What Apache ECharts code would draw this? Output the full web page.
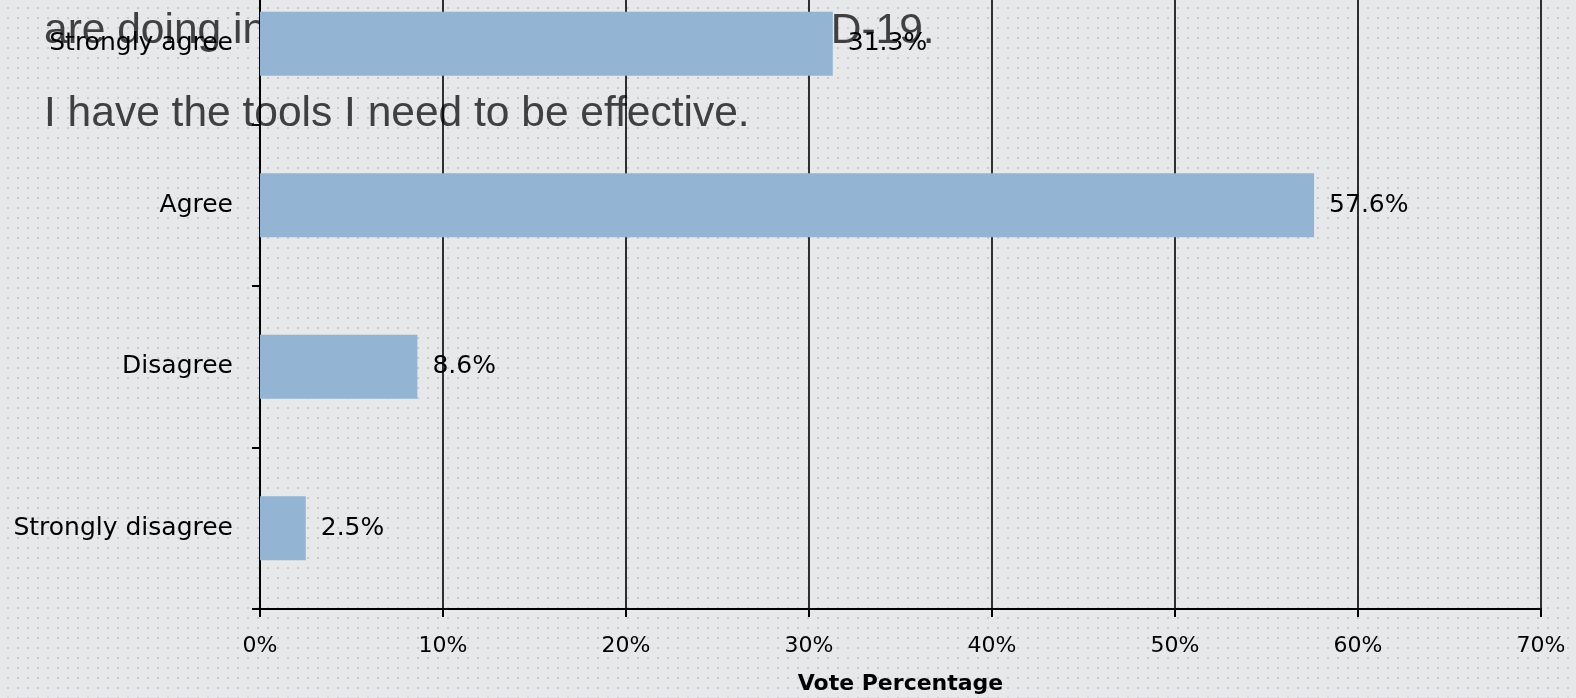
<!DOCTYPE html>
<html>
<head>
<meta charset="utf-8">
<script src="https://cdn.jsdelivr.net/npm/echarts@6/dist/echarts.min.js"></script>
<style>
  html, body { margin: 0; padding: 0; width: 1576px; height: 698px; overflow: hidden; }
  body {
    position: relative;
    background-color: #e7e8ea;
    background-image: radial-gradient(circle, #c9cbcf 0.9px, rgba(0,0,0,0) 1.4px);
    background-size: 10px 10px;
    background-position: 3px 3px;
  }
  #chart { position: absolute; left: 0; top: -37px; width: 1576px; height: 735px; }
</style>
</head>
<body>
<div id="chart"></div>
<script>
const categories = ['Strongly agree', 'Agree', 'Disagree', 'Strongly disagree'];
const votePercent = [31.3, 57.6, 8.6, 2.5];
const slideLines = [
  'are doing in response to the current COVID-19.',
  'I have the tools I need to be effective.'
];
const axisTitle = 'Vote Percentage';

const chart = echarts.init(document.getElementById('chart'), null, { renderer: 'canvas' });
const labelFont = "'DejaVu Sans', sans-serif";

chart.setOption({
  backgroundColor: 'transparent',
  animation: false,
  grid: { left: 260, right: 35, top: 0, bottom: 89, containLabel: false, outerBoundsMode: 'none' },
  graphic: [
    {
      type: 'text', z: -10, left: 44, top: 47,
      style: { text: slideLines[0], fill: '#404040', font: "42.5px 'Liberation Sans', Arial, sans-serif" }
    },
    {
      type: 'text', z: -10, left: 44, top: 130,
      style: { text: slideLines[1], fill: '#404040', font: "42.5px 'Liberation Sans', Arial, sans-serif" }
    }
  ],
  xAxis: {
    type: 'value',
    min: 0, max: 70, interval: 10,
    name: axisTitle,
    nameLocation: 'middle',
    nameGap: 64,
    nameTextStyle: { color: '#000', fontSize: 22, fontWeight: 'bold', fontFamily: labelFont },
    axisLine: { show: true, lineStyle: { color: '#000', width: 2 } },
    axisTick: { show: true, length: 8, lineStyle: { color: '#000', width: 2 } },
    axisLabel: { formatter: '{value}%', color: '#000', fontSize: 22, margin: 26, fontFamily: labelFont },
    splitLine: { show: true, lineStyle: { color: '#000', width: 1.6 } }
  },
  yAxis: {
    type: 'category',
    data: categories,
    inverse: true,
    axisLine: { show: true, lineStyle: { color: '#000', width: 2 } },
    axisTick: { show: true, length: 8, lineStyle: { color: '#000', width: 2 } },
    axisLabel: { color: '#000', fontSize: 25, margin: 27, fontFamily: labelFont, padding: [5, 0, 0, 0] },
    splitLine: { show: false }
  },
  series: [{
    type: 'bar',
    data: votePercent,
    barWidth: 64,
    itemStyle: { color: '#93b4d2' },
    label: {
      show: true, position: 'right', distance: 15, padding: [8, 0, 0, 0],
      formatter: '{c}%', color: '#000', fontSize: 25, fontFamily: labelFont
    }
  }]
});
</script>
</body>
</html>
